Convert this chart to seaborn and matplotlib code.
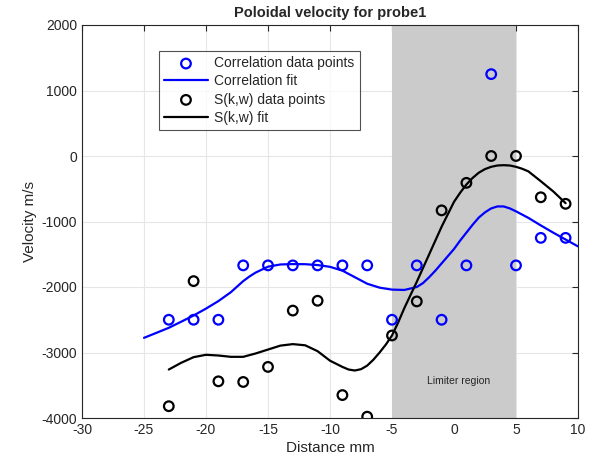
import matplotlib
matplotlib.use("Agg")
import matplotlib.pyplot as plt
import pandas as pd
import numpy as np
import seaborn as sns

# data points
pos = [-23, -21, -19, -17, -15, -13, -11, -9, -7, -5, -3, -1, 1, 3, 5, 7, 9]
corr_pts = [-2500, -2500, -2500, -1670, -1670, -1670, -1670, -1670, -1670,
            -2500, -1670, -2500, -1670, 1250, -1670, -1250, -1250]
skw_pts = [-3820, -1910, -3440, -3450, -3220, -2360, -2210, -3650, -3980,
           -2740, -2220, -830, -410, 0, 0, -630, -730]

# fitted curves, read every half unit
corr_fit_x = [-25, -24, -23, -22, -21, -20, -19, -18, -17.5, -17, -16.5, -16,
              -15, -14, -13, -12, -11, -10, -9, -8, -7, -6, -5, -4, -3, -2.5,
              -2, -1.5, -1, -0.5, 0, 0.5, 1, 1.5, 2, 2.5, 3, 3.5, 4, 4.5, 5,
              6, 7, 8, 9, 10]
corr_fit_y = [-2776, -2700, -2623, -2530, -2435, -2330, -2215, -2080, -1995,
              -1910, -1840, -1780, -1690, -1656, -1650, -1652, -1665, -1692,
              -1750, -1850, -1950, -2010, -2040, -2045, -2000, -1940, -1850,
              -1750, -1640, -1530, -1420, -1290, -1170, -1050, -940, -860,
              -800, -770, -770, -800, -845, -945, -1060, -1170, -1275, -1380]
skw_fit_x = [-23, -22, -21, -20, -19, -18, -17, -16, -15, -14, -13, -12, -11,
             -10, -9, -8.5, -8, -7.5, -7, -6.5, -6, -5.5, -5, -4.5, -4, -3, -2,
             -1, -0.5, 0, 0.5, 1, 1.5, 2, 2.5, 3, 3.5, 4, 4.5, 5, 5.5, 6, 7,
             8, 9]
skw_fit_y = [-3260, -3157, -3071, -3035, -3046, -3066, -3066, -3015, -2955,
             -2895, -2872, -2890, -2980, -3125, -3220, -3260, -3275, -3255,
             -3200, -3110, -3000, -2880, -2740, -2540, -2320, -1920, -1500,
             -1080, -890, -700, -560, -435, -335, -255, -200, -165, -145,
             -140, -145, -165, -195, -235, -385, -540, -720]

xticks = [-30, -25, -20, -15, -10, -5, 0, 5, 10]
yticks = [-4000, -3000, -2000, -1000, 0, 1000, 2000]

sns.set_style("white")
plt.rcParams['font.family'] = ['Liberation Sans', 'DejaVu Sans']
plt.rcParams['axes.unicode_minus'] = False

fig = plt.figure(figsize=(5.99, 4.72), dpi=100)
ax = fig.add_axes([82/599, 1 - 418/472, 496/599, 393/472])

ax.axvspan(-5, 5, color='#cbcbcb', zorder=1, lw=0)
ax.text(0.4, -3430, "Limiter region", fontsize=7.5, ha='center', va='center',
        color='#262626', zorder=2)

pts = pd.DataFrame({"x": pos, "corr": corr_pts, "skw": skw_pts})
cfit = pd.DataFrame({"x": corr_fit_x, "y": corr_fit_y})
sfit = pd.DataFrame({"x": skw_fit_x, "y": skw_fit_y})

sns.scatterplot(data=pts, x="x", y="corr", ax=ax, marker='o', s=48,
                facecolors='none', edgecolors='#0000ff', linewidth=1.6,
                zorder=4, label="Correlation data points")
sns.lineplot(data=cfit, x="x", y="y", ax=ax, color='#0000ff', lw=1.6,
             zorder=3, label="Correlation fit")
sns.scatterplot(data=pts, x="x", y="skw", ax=ax, marker='o', s=48,
                facecolors='none', edgecolors='black', linewidth=1.6,
                zorder=4, label="S(k,w) data points")
sns.lineplot(data=sfit, x="x", y="y", ax=ax, color='black', lw=1.6,
             zorder=3, label="S(k,w) fit")

ax.set_xlim(-30, 10)
ax.set_ylim(-4000, 2000)
ax.set_xticks(xticks)
ax.set_yticks(yticks)
ax.grid(True, color='#e6e6e6', lw=0.8)
ax.set_axisbelow(True)
ax.tick_params(direction='in', length=4, top=True, right=True,
               labelsize=10, colors='#262626', labelcolor='#262626')
for s in ax.spines.values():
    s.set_color('#262626')
    s.set_linewidth(0.8)

ax.set_title("Poloidal velocity for probe1", fontsize=10.5, fontweight='bold',
             pad=6)
ax.set_xlabel("Distance mm", fontsize=11, color='#262626', labelpad=3)
ax.set_ylabel("Velocity m/s", fontsize=11, color='#262626', labelpad=3)

leg = ax.legend(loc='upper left', bbox_to_anchor=(0.155, 0.933), fontsize=10,
                frameon=True, fancybox=False, edgecolor='#262626',
                borderpad=0.35, labelspacing=0.3, handlelength=3.2,
                handletextpad=0.45, borderaxespad=0)
leg.get_frame().set_linewidth(0.8)
leg.set_zorder(5)

fig.savefig("out.png", dpi=100, facecolor='white')
